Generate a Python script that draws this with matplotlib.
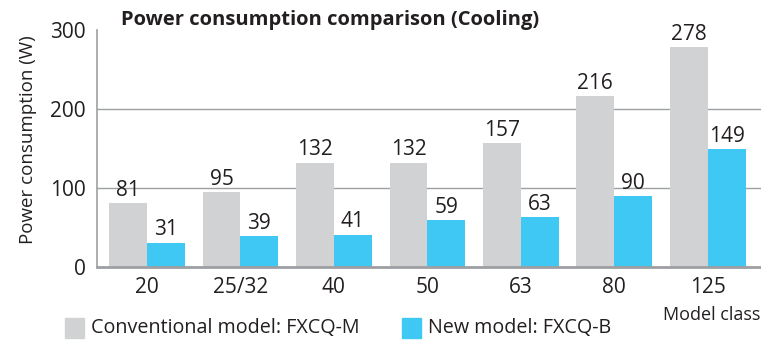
import numpy as np
import matplotlib
matplotlib.use("Agg")
import matplotlib.pyplot as plt
from matplotlib.patches import Rectangle

plt.rcParams['font.family'] = ['Open Sans', 'DejaVu Sans']

classes = ['20', '25/32', '40', '50', '63', '80', '125']
conventional = [81, 95, 132, 132, 157, 216, 278]
new_model = [31, 39, 41, 59, 63, 90, 149]
yticks = [0, 100, 200, 300]

gray = '#d1d2d4'
blue = '#40c8f4'
ink = '#231f20'
axc = '#9d9fa2'

W, H = 761, 340
fig = plt.figure(figsize=(W / 100, H / 100), dpi=100)
ax = fig.add_axes([97 / W, 1 - 267 / H, (W - 97) / W, (267 - 30) / H])

x = np.arange(len(classes))
bw = 0.405
ax.bar(x - bw / 2, conventional, bw, color=gray, zorder=2)
ax.bar(x + bw / 2, new_model, bw, color=blue, zorder=2)

for xi, v in zip(x, conventional):
    ax.text(xi - bw / 2, v + 3, str(v), ha='center', va='bottom', fontsize=15, color=ink)
for xi, v in zip(x, new_model):
    ax.text(xi + bw / 2, v + 3, str(v), ha='center', va='bottom', fontsize=15, color=ink)

ax.set_xlim(-0.535, 6.57)
ax.set_ylim(0, 300)
ax.set_yticks(yticks)
ax.set_yticklabels([str(t) for t in yticks], fontsize=15, color=ink)
ax.set_xticks(x)
ax.set_xticklabels(classes, fontsize=15, color=ink)
ax.tick_params(axis='both', length=0)
ax.tick_params(axis='y', pad=8)
ax.tick_params(axis='x', pad=7)

for g in [100, 200]:
    ax.axhline(g, color=axc, lw=1.0, zorder=1)

for s in ['top', 'right']:
    ax.spines[s].set_visible(False)
ax.spines['left'].set_color(axc)
ax.spines['left'].set_linewidth(1.2)
ax.spines['bottom'].set_color(axc)
ax.spines['bottom'].set_linewidth(2.0)
ax.spines['bottom'].set_zorder(3)

fig.text(28 / W, 1 - 140 / H, 'Power consumption (W)', rotation=90, ha='center', va='center',
         fontsize=13.5, color=ink)
fig.text(121 / W, 1 - 20 / H, 'Power consumption comparison (Cooling)', ha='left', va='center',
         fontsize=14.5, fontweight='bold', color=ink)
fig.text(663 / W, 1 - 315 / H, 'Model class', ha='left', va='center', fontsize=13, color=ink)

# legend drawn by hand as squares + labels
for x0, col, lab in [(65, gray, 'Conventional model: FXCQ-M'), (402, blue, 'New model: FXCQ-B')]:
    fig.patches.append(Rectangle((x0 / W, 1 - 338 / H), 19 / W, 20 / H, transform=fig.transFigure,
                                 color=col))
    fig.text((x0 + 26) / W, 1 - 328 / H, lab, ha='left', va='center', fontsize=14.2, color=ink)

fig.savefig('out.png', dpi=100)
